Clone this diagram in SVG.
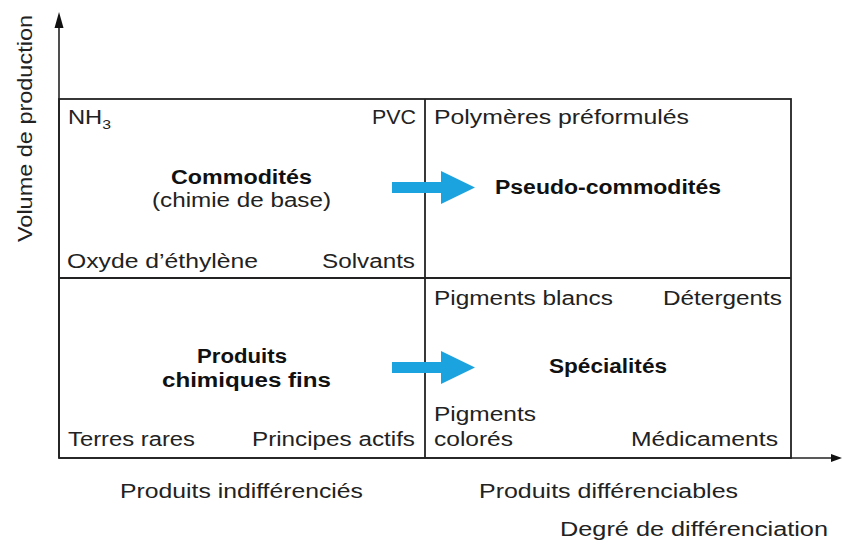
<svg xmlns="http://www.w3.org/2000/svg" width="843" height="545" viewBox="0 0 843 545">
<style>
  text { font-family: "Liberation Sans", Arial, Helvetica, sans-serif; font-size: 19.5px; fill: #222; }
  .b { font-weight: bold; fill: #111; }
  .ax { stroke: #222; stroke-width: 1.6; fill: none; }
  .bx { stroke: #222; stroke-width: 1.8; fill: none; }
  .blue { fill: #1ba3e0; }
</style>
<rect width="843" height="545" fill="#ffffff"/>

<g id="axes">
  <line class="ax" x1="59" y1="24" x2="59" y2="458"/>
  <polygon points="59,12 54.5,28 63.5,28" fill="#111"/>
  <line class="ax" x1="59" y1="458" x2="832" y2="458"/>
  <polygon points="842,458 831,454 831,462" fill="#111"/>
  <text transform="translate(32,242) rotate(-90)" x="0" y="0" textLength="227" lengthAdjust="spacingAndGlyphs">Volume de production</text>
  <text x="120" y="498" textLength="243" lengthAdjust="spacingAndGlyphs">Produits indifférenciés</text>
  <text x="479" y="498" textLength="259" lengthAdjust="spacingAndGlyphs">Produits différenciables</text>
  <text x="560" y="536" textLength="268" lengthAdjust="spacingAndGlyphs">Degré de différenciation</text>
</g>

<g id="grid">
  <rect class="bx" x="59" y="99" width="732" height="359"/>
  <line class="bx" x1="425" y1="99" x2="425" y2="458"/>
  <line class="bx" x1="59" y1="278" x2="791" y2="278"/>
</g>

<g id="commodites">
  <text x="68" y="124" textLength="43" lengthAdjust="spacingAndGlyphs">NH<tspan font-size="13" dy="5">3</tspan></text>
  <text x="372" y="124" textLength="44" lengthAdjust="spacingAndGlyphs">PVC</text>
  <text class="b" x="171" y="184" textLength="141" lengthAdjust="spacingAndGlyphs">Commodités</text>
  <text x="152" y="207" textLength="179" lengthAdjust="spacingAndGlyphs">(chimie de base)</text>
  <text x="67" y="268" textLength="191" lengthAdjust="spacingAndGlyphs">Oxyde d’éthylène</text>
  <text x="322" y="268" textLength="93" lengthAdjust="spacingAndGlyphs">Solvants</text>
</g>

<g id="pseudo-commodites">
  <text x="434" y="124" textLength="255" lengthAdjust="spacingAndGlyphs">Polymères préformulés</text>
  <text class="b" x="495" y="194" textLength="226" lengthAdjust="spacingAndGlyphs">Pseudo-commodités</text>
</g>

<g id="chimiques-fins">
  <text class="b" x="197" y="363" textLength="90" lengthAdjust="spacingAndGlyphs">Produits</text>
  <text class="b" x="162" y="387" textLength="169" lengthAdjust="spacingAndGlyphs">chimiques fins</text>
  <text x="68" y="446" textLength="127" lengthAdjust="spacingAndGlyphs">Terres rares</text>
  <text x="252" y="446" textLength="163" lengthAdjust="spacingAndGlyphs">Principes actifs</text>
</g>

<g id="specialites">
  <text x="434" y="305" textLength="179" lengthAdjust="spacingAndGlyphs">Pigments blancs</text>
  <text x="663" y="305" textLength="119" lengthAdjust="spacingAndGlyphs">Détergents</text>
  <text class="b" x="549" y="373" textLength="118" lengthAdjust="spacingAndGlyphs">Spécialités</text>
  <text x="434" y="421" textLength="102" lengthAdjust="spacingAndGlyphs">Pigments</text>
  <text x="434" y="446" textLength="79" lengthAdjust="spacingAndGlyphs">colorés</text>
  <text x="631" y="446" textLength="147" lengthAdjust="spacingAndGlyphs">Médicaments</text>
</g>

<g id="connectors">
  <polygon class="blue" points="392,182 441,182 441,171 475,187.5 441,204 441,193 392,193"/>
  <polygon class="blue" points="392,362 441,362 441,351 475,367.5 441,384 441,373 392,373"/>
</g>
</svg>
